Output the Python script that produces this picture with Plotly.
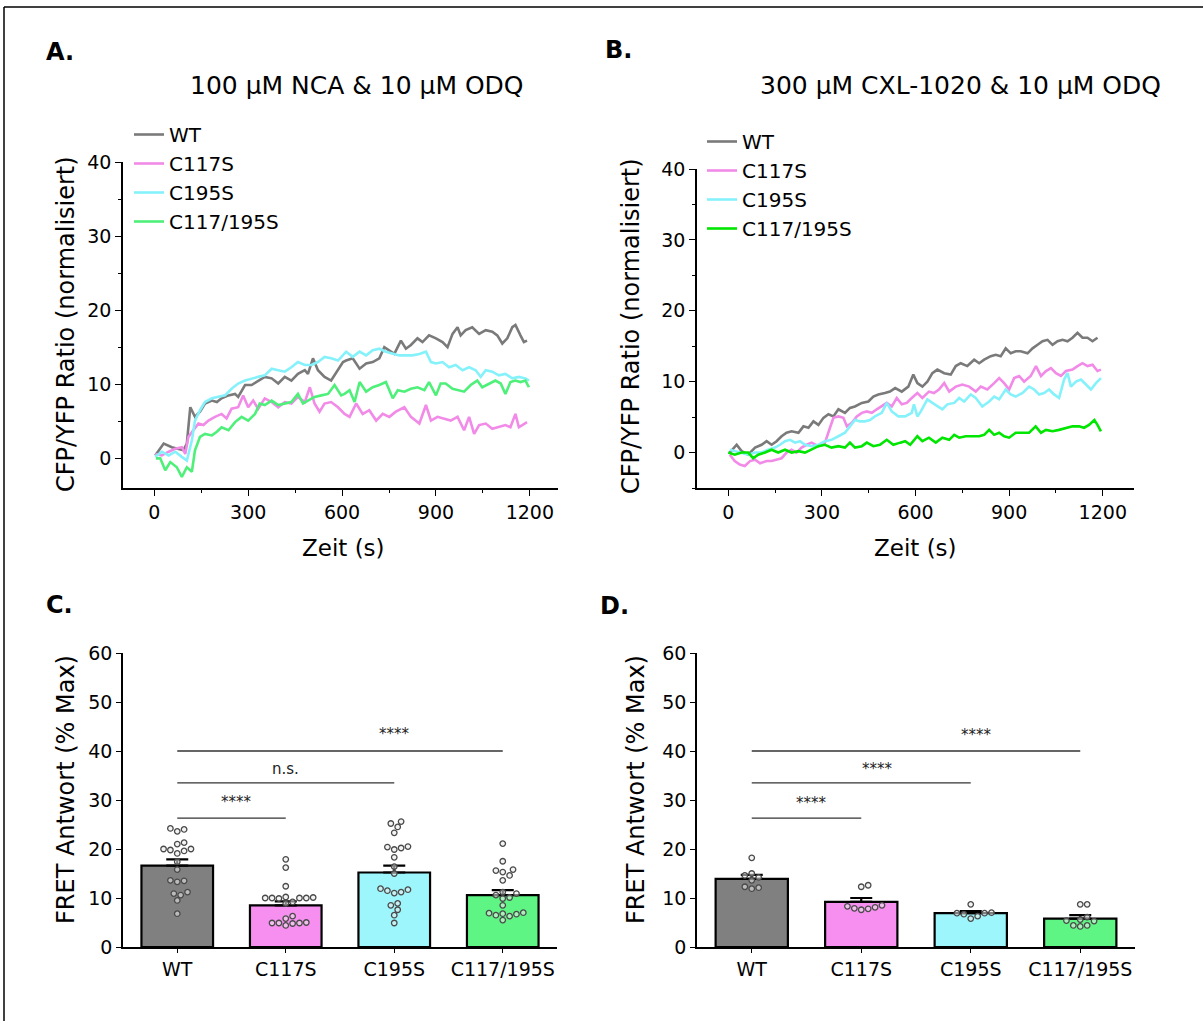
import plotly.graph_objects as go

W, H = 1203, 1021
FONT = "DejaVu Sans, Arial, sans-serif"

# ---------------- Data: panel A (100 µM NCA & 10 µM ODQ) ----------------
A_WT_t = [3,30,56,77,93,104,115,130,146,162,184,200,215,237,258,268,290,311,332,353,375,396,417,438,459,481,491,507,523,544,565,587,603,
          613,634,656,677,698,719,735,751,767,788,804,820,841,857,878,900,921,937,953,969,979,995,1016,1038,1059,1080,1096,1112,1128,1144,1154,1170,1181,1191]
A_WT_v = [0.4,2.0,1.5,1.3,1.1,2.0,6.9,5.6,6.3,7.4,7.8,7.6,8.1,8.5,8.7,8.3,9.9,9.9,10.5,11.0,10.8,10.1,11.0,10.5,11.4,11.9,11.4,13.5,11.9,11.0,10.5,11.9,13.0,
          13.2,13.5,12.1,12.8,13.0,13.5,15.0,14.6,14.1,15.9,14.8,15.3,16.2,15.7,16.6,16.2,15.7,15.0,16.8,17.7,16.6,17.3,17.7,16.8,17.3,17.1,16.6,15.5,16.2,17.7,18.0,16.6,15.7,15.9]

A_C117S_t = [3,24,46,67,88,99,109,125,141,157,173,194,215,231,247,268,284,300,316,332,353,375,396,417,438,459,481,497,512,528,544,565,587,
             608,624,645,666,687,709,730,751,772,799,820,847,868,884,905,926,947,969,990,1006,1022,1038,1059,1080,1101,1122,1138,1154,1165,1181,1191]
A_C117S_v = [0.6,0.4,0.9,1.3,1.5,0.6,2.9,3.8,4.7,4.5,5.1,5.6,6.0,5.4,6.7,6.9,8.5,6.9,7.8,6.7,8.1,7.6,6.9,7.6,7.4,8.3,7.6,9.6,7.4,6.3,7.4,7.6,6.9,
             6.0,5.6,7.4,6.0,6.5,5.1,6.0,5.6,6.3,6.9,5.6,4.7,7.2,5.1,5.6,5.4,5.1,5.6,3.8,5.6,3.3,4.5,4.7,4.0,4.2,4.5,4.2,6.0,4.2,4.7,4.9]

A_C195S_t = [3,24,46,67,88,104,120,130,146,162,184,205,226,247,268,290,311,332,353,375,396,417,438,459,481,502,523,544,565,587,
             613,634,656,677,698,719,740,762,783,804,825,847,868,884,900,921,942,963,985,1006,1027,1043,1059,1080,1101,1122,1144,1165,1186,1197]
A_C195S_v = [0.2,0.9,0.4,0.9,0.2,-0.3,2.4,5.1,6.5,7.6,8.1,8.3,8.5,9.4,10.1,10.5,10.8,11.0,11.2,12.1,11.9,11.7,12.3,13.0,12.6,12.6,13.0,13.7,13.5,13.2,
             14.4,13.7,14.4,13.9,14.6,14.8,14.4,14.1,13.9,13.9,13.9,14.1,14.4,13.0,12.8,13.0,12.3,12.6,11.9,12.3,11.9,11.0,11.9,11.7,11.2,11.4,10.8,11.0,10.8,10.5]

A_C117195S_t = [5,19,35,51,72,88,104,120,130,146,162,184,200,215,237,258,279,300,322,337,353,375,396,417,438,459,475,491,512,534,555,576,597,
                608,624,640,656,677,698,719,740,762,778,799,820,841,863,878,900,915,931,953,974,990,1011,1032,1048,1069,1090,1107,1122,1138,1154,1170,1186,1197]
A_C117195S_v = [0.0,0.0,-1.6,-0.5,-1.2,-2.5,-1.2,-1.8,1.1,2.9,3.3,3.1,3.6,4.2,3.8,4.9,5.6,5.1,6.0,7.4,7.2,7.8,7.2,7.4,7.6,8.7,7.4,7.8,8.3,8.5,8.7,9.9,8.5,
                8.7,9.2,7.6,10.3,9.0,9.6,9.9,10.3,8.1,9.2,9.0,9.4,9.6,9.2,10.3,8.5,10.1,10.1,9.4,9.2,9.0,9.9,10.5,9.6,10.1,10.5,10.1,8.7,10.3,10.5,10.3,10.5,9.6]

# ---------------- Data: panel B (300 µM CXL-1020 & 10 µM ODQ) ----------------
B_WT_t = [5,27,43,64,86,107,123,139,155,171,187,203,225,241,257,273,289,305,321,337,353,374,390,406,428,449,465,481,502,518,535,556,577,593,
          606,622,638,654,670,692,713,729,745,766,788,804,820,841,857,873,889,905,921,937,959,975,991,1007,1023,1039,1055,1071,1087,1103,1119,1135,1151,1167,1183]
B_WT_v = [0.0,1.1,0.2,-0.3,0.7,1.1,1.6,1.1,1.6,2.3,2.8,3.0,2.8,3.7,3.5,4.4,3.9,4.9,5.4,5.1,6.1,5.6,6.3,6.5,7.0,7.2,7.9,8.2,8.4,8.6,9.1,8.6,9.3,11.0,
          9.8,9.3,10.0,11.2,11.7,11.2,11.0,12.2,12.6,12.2,13.1,12.6,13.1,13.6,13.8,13.6,14.7,14.0,14.3,14.3,14.0,14.7,15.2,15.7,15.9,15.2,15.7,15.9,15.7,16.2,16.9,16.2,16.2,15.7,16.2]

B_C117S_t = [5,21,37,53,70,86,102,123,139,155,171,187,203,219,235,251,267,289,310,326,337,353,369,380,396,412,428,444,460,476,492,508,524,540,556,572,588,
             606,622,643,659,675,692,708,729,750,772,793,809,830,852,868,884,900,916,932,948,969,986,1002,1018,1034,1050,1066,1082,1103,1119,1135,1151,1167,1183,1194]
B_C117S_v = [-0.3,-1.2,-1.7,-1.9,-1.2,-1.0,-1.5,-1.2,-1.2,-1.0,-0.8,0.0,0.4,0.0,0.7,1.1,1.4,0.9,1.4,3.5,4.9,5.1,4.9,3.7,4.2,5.1,5.6,5.8,5.6,6.1,6.5,7.0,6.5,7.7,6.8,7.0,7.7,
             8.4,7.7,8.6,8.4,8.9,9.8,8.6,9.3,9.6,9.3,8.6,9.3,8.9,9.8,10.5,9.8,8.9,10.5,10.8,10.0,10.8,12.2,10.8,11.5,11.9,11.2,10.8,11.5,11.7,12.2,12.6,12.2,12.4,11.5,11.7]

B_C195S_t = [5,21,43,64,86,107,128,150,166,182,198,214,230,246,267,289,310,331,353,374,390,406,422,438,454,470,492,508,524,545,567,588,
             595,606,617,638,654,670,686,702,724,740,756,777,793,814,836,852,868,889,905,921,943,964,980,996,1012,1028,1044,1060,1076,1087,1098,1114,1130,1146,1162,1178,1194]
B_C195S_v = [0.4,0.2,0.0,-0.3,0.0,0.0,0.4,0.7,1.1,1.6,1.8,1.4,1.6,1.1,0.9,1.1,1.6,1.8,2.3,2.8,3.7,4.6,4.4,4.4,4.6,5.1,5.6,7.0,5.8,5.1,5.1,5.6,
             6.8,5.1,5.8,7.5,7.0,6.5,6.1,6.8,7.0,7.7,7.2,8.2,7.7,6.5,7.2,7.9,7.5,8.9,8.2,7.9,8.4,9.3,8.9,8.2,8.4,8.9,8.2,7.7,10.3,11.2,9.3,10.0,10.3,9.6,8.9,9.8,10.5]

B_C117195S_t = [0,21,43,64,80,96,118,139,160,182,203,225,246,267,289,310,331,353,374,390,406,428,444,465,486,508,529,551,567,583,
                606,622,643,665,686,708,724,740,761,782,804,820,836,852,868,884,900,921,943,964,985,1002,1018,1039,1060,1082,1103,1124,1140,1156,1173,1183,1194]
B_C117195S_v = [0.0,-0.3,0.0,0.0,-0.8,-0.3,0.0,0.4,0.0,0.4,0.0,0.2,0.0,0.4,0.9,1.1,0.7,0.9,0.7,1.4,0.7,0.9,1.4,0.9,1.1,1.8,1.1,1.4,1.6,1.1,
                2.3,1.6,2.1,1.4,2.1,1.8,2.5,2.1,2.3,2.3,2.3,2.5,3.2,2.5,2.8,2.3,2.1,2.8,2.8,2.8,3.7,2.8,3.2,3.0,3.2,3.5,3.7,3.7,3.5,3.9,4.6,3.9,3.0]

SERIES = ["WT", "C117S", "C195S", "C117/195S"]

# ---------------- Data: panels C and D (FRET Antwort, % Max) ----------------
CATEGORIES = ["WT", "C117S", "C195S", "C117/195S"]
C_MEAN = [16.6, 8.5, 15.2, 10.6]
C_SEM = [1.3, 0.8, 1.4, 1.0]
C_POINTS = [
    [24.2, 24.0, 23.6, 21.3, 21.0, 20.0, 20.0, 19.8, 19.6, 19.1, 17.4, 15.8, 13.6, 13.5, 13.3, 11.2, 10.9, 10.6, 9.5, 6.8],
    [17.9, 16.2, 12.4, 10.1, 10.0, 10.0, 10.0, 10.0, 9.9, 10.2, 9.2, 8.9, 6.3, 5.8, 4.9, 4.9, 4.8, 4.9, 5.0, 4.4],
    [25.6, 25.2, 24.5, 23.3, 20.5, 20.4, 20.2, 19.9, 18.3, 16.4, 15.0, 11.9, 11.7, 11.5, 11.2, 11.0, 8.9, 8.5, 7.6, 6.5, 4.9],
    [21.1, 17.5, 15.8, 15.6, 15.3, 14.6, 13.6, 11.2, 10.9, 10.6, 10.1, 9.9, 8.5, 7.0, 6.9, 6.8, 6.7, 6.5, 6.3, 5.5],
]
C_SIG = [("****", 1), ("n.s.", 2), ("****", 3)]   # comparisons WT vs category index

D_MEAN = [13.9, 9.2, 6.9, 5.8]
D_SEM = [0.8, 0.8, 0.45, 0.7]
D_POINTS = [
    [18.2, 15.0, 14.6, 14.2, 13.6, 12.3, 12.1, 11.9],
    [12.6, 12.3, 8.5, 8.3, 8.1, 7.9, 7.8, 7.6],
    [8.7, 7.0, 6.9, 6.9, 6.7, 6.3, 5.8],
    [8.7, 8.7, 6.1, 5.6, 5.4, 5.3, 4.4, 4.4, 4.2],
]
D_SIG = [("****", 1), ("****", 2), ("****", 3)]

# ---------------- Styles ----------------
LINE_COLORS_A = ["#7a7a7a", "#f28ae8", "#85f2fb", "#4ef07a"]
LINE_COLORS_B = ["#7a7a7a", "#f28ae8", "#85f2fb", "#00e600"]
BAR_COLORS = ["#808080", "#f78ff0", "#9cf6fb", "#5ef584"]

def fx(px):
    return px / W

def fy(px):
    return 1 - px / H

fig = go.Figure()

def add_lines(data, colors, xa, ya, legend):
    for name, (t, v), c in zip(SERIES, data, colors):
        fig.add_trace(go.Scatter(x=t, y=v, mode="lines", name=name, xaxis=xa, yaxis=ya,
                                 line=dict(color=c, width=2.6), legend=legend))

add_lines([(A_WT_t, A_WT_v), (A_C117S_t, A_C117S_v), (A_C195S_t, A_C195S_v), (A_C117195S_t, A_C117195S_v)],
          LINE_COLORS_A, "x", "y", "legend")
add_lines([(B_WT_t, B_WT_v), (B_C117S_t, B_C117S_v), (B_C195S_t, B_C195S_v), (B_C117195S_t, B_C117195S_v)],
          LINE_COLORS_B, "x2", "y2", "legend2")

def swarm(values, ppu_y=4.9, ppu_x=108.0, d=6.2):
    order = sorted(range(len(values)), key=lambda i: values[i])
    placed = []
    offs = [0.0] * len(values)
    step = d * 0.55
    for i in order:
        y = values[i] * ppu_y
        k = 0
        while True:
            cands = [0.0] if k == 0 else [k * step, -k * step]
            ok = None
            for c in cands:
                if all((c - px) ** 2 + (y - py) ** 2 >= d * d for px, py in placed):
                    ok = c
                    break
            if ok is not None:
                placed.append((ok, y))
                offs[i] = ok / ppu_x
                break
            k += 1
    return offs

def add_bars(means, sems, points, xa, ya):
    xs = list(range(len(CATEGORIES)))
    fig.add_trace(go.Bar(x=xs, y=means, xaxis=xa, yaxis=ya, width=0.66, showlegend=False,
                         marker=dict(color=BAR_COLORS, line=dict(color="black", width=2.2)),
                         error_y=dict(type="data", array=sems, arrayminus=[0] * len(sems),
                                      color="black", thickness=2.2, width=11)))
    for i, vals in enumerate(points):
        offs = swarm(vals)
        fig.add_trace(go.Scatter(x=[i + o for o in offs], y=vals, mode="markers", xaxis=xa, yaxis=ya,
                                 showlegend=False,
                                 marker=dict(symbol="circle", size=5.5, color="rgba(235,235,235,0.55)",
                                             line=dict(color="#4a4a4a", width=1.3))))

add_bars(C_MEAN, C_SEM, C_POINTS, "x3", "y3")
add_bars(D_MEAN, D_SEM, D_POINTS, "x4", "y4")

# significance brackets
SIG_LINE_Y = [26.3, 33.5, 40.0]
SIG_TEXT_C = [(0.55, 29.6), (1.0, 36.3), (2.0, 43.4)]
SIG_TEXT_D = [(0.55, 29.4), (1.15, 36.3), (2.05, 43.2)]
shapes = []
annotations = []
for sig, texts, xr, yr in [(C_SIG, SIG_TEXT_C, "x3", "y3"), (D_SIG, SIG_TEXT_D, "x4", "y4")]:
    for (label, j), ly, (tx, ty) in zip(sig, SIG_LINE_Y, texts):
        shapes.append(dict(type="line", xref=xr, yref=yr, x0=0, x1=j, y0=ly, y1=ly,
                           line=dict(color="#333333", width=1.4)))
        annotations.append(dict(xref=xr, yref=yr, x=tx, y=ty, text=label, showarrow=False,
                                font=dict(family=FONT, size=15, color="#222222")))

# figure frame (top and left edges)
shapes.append(dict(type="line", xref="paper", yref="paper", x0=fx(4), x1=fx(1203), y0=fy(7), y1=fy(7),
                   line=dict(color="black", width=1.5)))
shapes.append(dict(type="line", xref="paper", yref="paper", x0=fx(4), x1=fx(4), y0=fy(7), y1=fy(1021),
                   line=dict(color="black", width=1.5)))

def txt(x, y, text, size, bold=False, angle=0):
    annotations.append(dict(xref="paper", yref="paper", x=fx(x), y=fy(y), text=f"<b>{text}</b>" if bold else text,
                            showarrow=False, textangle=angle, xanchor="center", yanchor="middle",
                            font=dict(family=FONT, size=size, color="black")))

txt(60, 52, "A.", 24, bold=True)
txt(618, 50, "B.", 24, bold=True)
txt(59, 605, "C.", 24, bold=True)
txt(614, 606, "D.", 24, bold=True)
txt(357, 85, "100 µM NCA &amp; 10 µM ODQ", 25)
txt(960, 85, "300 µM CXL-1020 &amp; 10 µM ODQ", 25)
txt(66, 324, "CFP/YFP Ratio (normalisiert)", 24, angle=-90)
txt(631, 326, "CFP/YFP Ratio (normalisiert)", 24, angle=-90)
txt(343, 548, "Zeit (s)", 23)
txt(915, 548, "Zeit (s)", 23)
txt(66, 790, "FRET Antwort (% Max)", 24, angle=-90)
txt(636, 790, "FRET Antwort (% Max)", 24, angle=-90)

axis_common = dict(showline=True, linecolor="black", linewidth=1.5, ticks="outside", ticklen=6,
                   tickwidth=1.3, tickcolor="black", showgrid=False, zeroline=False,
                   tickfont=dict(family=FONT, size=19, color="black"))
cat_font = dict(family=FONT, size=19, color="black")

fig.update_layout(
    width=W, height=H, margin=dict(l=0, r=0, t=0, b=0, autoexpand=False), autosize=False,
    paper_bgcolor="white", plot_bgcolor="white", barmode="overlay",
    shapes=shapes, annotations=annotations,
    xaxis=dict(domain=[fx(123), fx(558)], range=[-100, 1290], anchor="y", tickvals=[0, 300, 600, 900, 1200],
               minor=dict(dtick=150, tick0=0, ticks="outside", ticklen=3, tickcolor="black"), **axis_common),
    yaxis=dict(domain=[fy(488), fy(162)], range=[-4, 40], anchor="x", tickvals=[0, 10, 20, 30, 40],
               minor=dict(dtick=5, tick0=0, ticks="outside", ticklen=3, tickcolor="black"), **axis_common),
    xaxis2=dict(domain=[fx(697), fx(1134)], range=[-100, 1300], anchor="y2", tickvals=[0, 300, 600, 900, 1200],
                minor=dict(dtick=150, tick0=0, ticks="outside", ticklen=3, tickcolor="black"), **axis_common),
    yaxis2=dict(domain=[fy(488), fy(169)], range=[-5, 40], anchor="x2", tickvals=[0, 10, 20, 30, 40],
                minor=dict(dtick=5, tick0=0, ticks="outside", ticklen=3, tickcolor="black"), **axis_common),
    xaxis3=dict(domain=[fx(123), fx(557)], range=[-0.5, 3.5], anchor="y3", tickvals=[0, 1, 2, 3],
                ticktext=CATEGORIES, **{**axis_common, "ticklen": 4, "tickfont": cat_font}),
    yaxis3=dict(domain=[fy(947), fy(653)], range=[0, 60], anchor="x3", tickvals=[0, 10, 20, 30, 40, 50, 60],
                **{**axis_common, "ticklen": 5}),
    xaxis4=dict(domain=[fx(697), fx(1135)], range=[-0.5, 3.5], anchor="y4", tickvals=[0, 1, 2, 3],
                ticktext=CATEGORIES, **{**axis_common, "ticklen": 4, "tickfont": cat_font}),
    yaxis4=dict(domain=[fy(947), fy(653)], range=[0, 60], anchor="x4", tickvals=[0, 10, 20, 30, 40, 50, 60],
                **{**axis_common, "ticklen": 5}),
    legend=dict(x=fx(129), y=fy(115), xanchor="left", yanchor="top", bgcolor="rgba(0,0,0,0)",
                font=dict(family=FONT, size=20, color="black"), tracegroupgap=0, itemwidth=30),
    legend2=dict(x=fx(702), y=fy(122), xanchor="left", yanchor="top", bgcolor="rgba(0,0,0,0)",
                 font=dict(family=FONT, size=20, color="black"), tracegroupgap=0, itemwidth=30),
)

fig.write_html("out.html", config={"displayModeBar": False},
               post_script="document.body.style.margin='0px';document.body.style.overflow='hidden';")
